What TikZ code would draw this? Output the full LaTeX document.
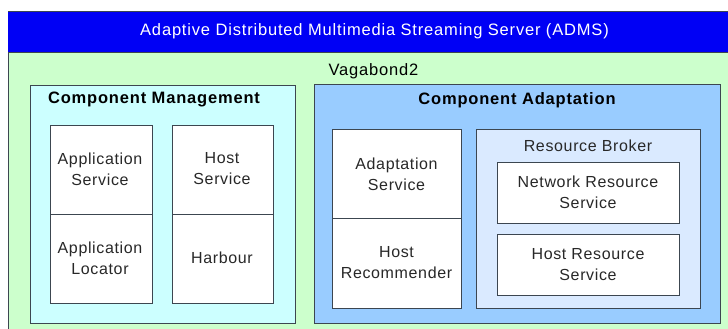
\documentclass[tikz,border=0pt]{standalone}
\usepackage{fontspec}
\setmainfont{Liberation Sans}
\definecolor{bluebar}{RGB}{0,0,245}
\definecolor{greenbg}{RGB}{204,255,204}
\definecolor{cmfill}{RGB}{204,255,255}
\definecolor{cafill}{RGB}{153,204,255}
\definecolor{rbfill}{RGB}{218,234,255}
\definecolor{edge}{RGB}{60,70,80}
\definecolor{txt}{RGB}{40,40,40}
\begin{document}
\begin{tikzpicture}[x=1pt,y=-1pt,
  box/.style={draw=edge,line width=0.9pt},
  title/.style={font=\fontsize{16.5}{19}\selectfont\bfseries\addfontfeature{LetterSpace=5},text=black,inner sep=0pt},
  body/.style={font=\fontsize{16}{21}\selectfont\addfontfeature{LetterSpace=4},text=txt,align=center,inner sep=0pt},
]
\useasboundingbox (0,0) rectangle (728,329);
\fill[white] (0,0) rectangle (728,329);
% outer green and blue bar
\fill[greenbg] (8,52) rectangle (728,329);
\draw[edge,line width=0.9pt] (728,11) -- (8,11) -- (8,329);
\fill[bluebar] (8,11) rectangle (728,52);
\draw[edge,line width=0.9pt] (8,11) -- (728,11);
\draw[edge,line width=0.6pt] (8,52) -- (728,52);
\node[font=\fontsize{16.5}{19}\selectfont\addfontfeature{LetterSpace=5},text=white,inner sep=0pt] (adms) at (374.5,31) {Adaptive Distributed Multimedia Streaming Server (ADMS)};
\node[font=\fontsize{16.5}{19}\selectfont\addfontfeature{LetterSpace=5},text=black,inner sep=0pt] (vag) at (373.5,71) {Vagabond2};
% component management
\draw[box,fill=cmfill] (30,85) rectangle (295,323);
\node[title] (cmt) at (154,99) {Component Management};
\draw[box,fill=white] (50,125) rectangle (152,303);
\draw[box] (50,214) -- (152,214);
\draw[box,fill=white] (172,125) rectangle (273,303);
\draw[box] (172,214) -- (273,214);
\node[body] (as) at (100,169) {Application\\Service};
\node[body] (al) at (100,258) {Application\\Locator};
\node[body] (hs) at (222,169) {Host\\Service};
\node[body] (hb) at (222,258) {Harbour};
% component adaptation
\draw[box,fill=cafill] (314,84) rectangle (720,323);
\node[title] (cat) at (517,100) {Component Adaptation};
\draw[box,fill=white] (332,129) rectangle (461,308);
\draw[box] (332,218) -- (461,218);
\node[body] (ads) at (396.5,174) {Adaptation\\Service};
\node[body] (hr) at (396.5,263) {Host\\Recommender};
\draw[box,fill=rbfill] (476,129) rectangle (700,308);
\node[body] (rbt) at (588,146) {Resource Broker};
\draw[box,fill=white] (497,162) rectangle (679,223);
\node[body] (nrs) at (588,192.5) {Network Resource\\Service};
\draw[box,fill=white] (497,234) rectangle (679,295);
\node[body] (hrs) at (588,264.5) {Host Resource\\Service};
\end{tikzpicture}
\end{document}
